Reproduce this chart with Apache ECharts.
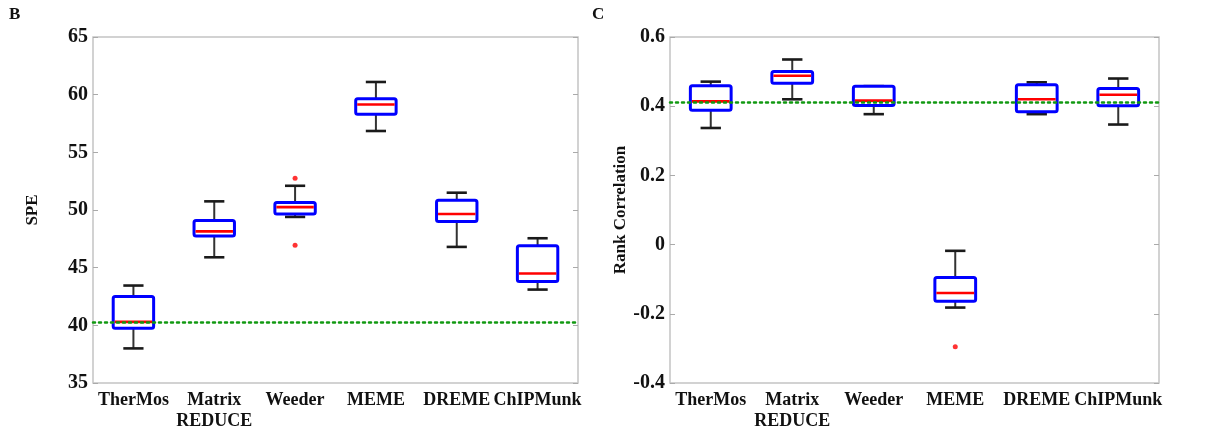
<!DOCTYPE html>
<html lang="en">
<head>
    <meta charset="UTF-8">
    <title>SPE and Rank Correlation</title>
    <style>
        body { margin: 0; background: #fff; }
        #chart { width: 1208px; height: 439px; }
    </style>
</head>
<body>
    <div id="chart"></div>
    <script src="https://cdn.jsdelivr.net/npm/echarts@6/dist/echarts.min.js"></script>
    <script>
        var tools = ['TherMos', 'Matrix\nREDUCE', 'Weeder', 'MEME', 'DREME', 'ChIPMunk']

        // [low whisker, q1, median, q3, high whisker]
        var speBoxes = [
            [38.0, 39.75, 40.3, 42.5, 43.45],
            [45.9, 47.75, 48.15, 49.1, 50.75],
            [49.4, 49.65, 50.25, 50.65, 52.1],
            [56.85, 58.3, 59.15, 59.65, 61.1],
            [46.8, 49.0, 49.65, 50.85, 51.5],
            [43.1, 43.8, 44.5, 46.9, 47.55]
        ]
        var speOutliers = [[2, 52.75], [2, 46.95]]
        var speBaseline = 40.25

        var rankBoxes = [
            [0.337, 0.388, 0.414, 0.459, 0.471],
            [0.42, 0.466, 0.488, 0.5, 0.535],
            [0.377, 0.402, 0.416, 0.458, 0.458],
            [-0.182, -0.164, -0.14, -0.095, -0.018],
            [0.377, 0.384, 0.42, 0.462, 0.469],
            [0.347, 0.401, 0.433, 0.451, 0.48]
        ]
        var rankOutliers = [[3, -0.295]]
        var rankBaseline = 0.414

        var font = '"Liberation Serif", "DejaVu Serif", serif'

        function boxItem(box, i) {
            return [i].concat(box)
        }

        function renderBox(params, api) {
            var idx = api.value(0)
            var bw = api.size([1, 0])[0] * 0.5
            var cw = bw * 0.5
            var lo = api.coord([idx, api.value(1)])
            var q1 = api.coord([idx, api.value(2)])
            var md = api.coord([idx, api.value(3)])
            var q3 = api.coord([idx, api.value(4)])
            var hi = api.coord([idx, api.value(5)])
            var x = lo[0]
            var black = { stroke: '#1a1a1a', lineWidth: 2.6 }
            var stem = { stroke: '#333', lineWidth: 2 }
            return {
                type: 'group',
                children: [
                    { type: 'line', shape: { x1: x, y1: q1[1], x2: x, y2: lo[1] }, style: stem },
                    { type: 'line', shape: { x1: x, y1: q3[1], x2: x, y2: hi[1] }, style: stem },
                    { type: 'line', shape: { x1: x - cw / 2, y1: lo[1], x2: x + cw / 2, y2: lo[1] }, style: black },
                    { type: 'line', shape: { x1: x - cw / 2, y1: hi[1], x2: x + cw / 2, y2: hi[1] }, style: black },
                    { type: 'rect', shape: { x: x - bw / 2, y: q3[1], width: bw, height: q1[1] - q3[1], r: 2 }, style: { fill: '#fff', stroke: '#0000ff', lineWidth: 3 } },
                    { type: 'line', shape: { x1: x - bw / 2 + 1.5, y1: md[1], x2: x + bw / 2 - 1.5, y2: md[1] }, style: { stroke: '#ff0000', lineWidth: 2.6 } }
                ]
            }
        }

        function xAxisFor(gi) {
            return {
                type: 'category', gridIndex: gi, data: tools,
                axisLine: { show: false }, axisTick: { show: false },
                axisLabel: { color: '#111', fontFamily: font, fontWeight: 'bold', fontSize: 18, lineHeight: 21, margin: 7, interval: 0 }
            }
        }

        function yAxisFor(gi, min, max, step, name, gap) {
            return {
                type: 'value', gridIndex: gi, min: min, max: max, interval: step,
                name: name, nameLocation: 'middle', nameGap: gap,
                nameTextStyle: { color: '#111', fontFamily: font, fontWeight: 'bold', fontSize: 17 },
                axisLine: { show: false },
                axisTick: { show: true, inside: true, length: 5, lineStyle: { color: '#aaa' } },
                splitLine: { show: false },
                axisLabel: { color: '#111', fontFamily: font, fontWeight: 'bold', fontSize: 20, margin: 5 }
            }
        }

        function rightTicks(gi, min, max, step) {
            return {
                type: 'value', gridIndex: gi, position: 'right', min: min, max: max, interval: step,
                axisLine: { show: false },
                axisTick: { show: true, inside: true, length: 5, lineStyle: { color: '#aaa' } },
                axisLabel: { show: false }, splitLine: { show: false }
            }
        }

        function baseline(value, xi, yi) {
            return {
                type: 'line', xAxisIndex: xi, yAxisIndex: yi, data: [], silent: true,
                markLine: {
                    silent: true, symbol: 'none', label: { show: false },
                    lineStyle: { color: '#119911', type: [2, 4], width: 2.5, cap: 'round' },
                    data: [{ yAxis: value }]
                }
            }
        }

        var option = {
            animation: false,
            grid: [
                { left: 93, top: 37, width: 485, height: 346, show: true, borderColor: '#c4c4c4', borderWidth: 1.5 },
                { left: 670, top: 37, width: 489, height: 346, show: true, borderColor: '#c4c4c4', borderWidth: 1.5 }
            ],
            xAxis: [xAxisFor(0), xAxisFor(1)],
            yAxis: [
                yAxisFor(0, 35, 65, 5, 'SPE', 52),
                yAxisFor(1, -0.4, 0.6, 0.2, 'Rank Correlation', 38),
                rightTicks(0, 35, 65, 5),
                rightTicks(1, -0.4, 0.6, 0.2)
            ],
            graphic: [
                { type: 'text', left: 9, top: 6, style: { text: 'B', font: 'bold 17px ' + font, fill: '#111' } },
                { type: 'text', left: 592, top: 6, style: { text: 'C', font: 'bold 17px ' + font, fill: '#111' } }
            ],
            series: [
                baseline(speBaseline, 0, 0),
                baseline(rankBaseline, 1, 1),
                {
                    type: 'custom', xAxisIndex: 0, yAxisIndex: 0, renderItem: renderBox,
                    encode: { x: 0, y: [1, 2, 3, 4, 5] },
                    data: speBoxes.map(boxItem), z: 3
                },
                {
                    type: 'custom', xAxisIndex: 1, yAxisIndex: 1, renderItem: renderBox,
                    encode: { x: 0, y: [1, 2, 3, 4, 5] },
                    data: rankBoxes.map(boxItem), z: 3
                },
                {
                    type: 'scatter', xAxisIndex: 0, yAxisIndex: 0, symbolSize: 5,
                    itemStyle: { color: '#ff0000' }, data: speOutliers, z: 4
                },
                {
                    type: 'scatter', xAxisIndex: 1, yAxisIndex: 1, symbolSize: 5,
                    itemStyle: { color: '#ff0000' }, data: rankOutliers, z: 4
                }
            ]
        }

        var chart = echarts.init(document.getElementById('chart'))
        chart.setOption(option)
    </script>
</body>
</html>
